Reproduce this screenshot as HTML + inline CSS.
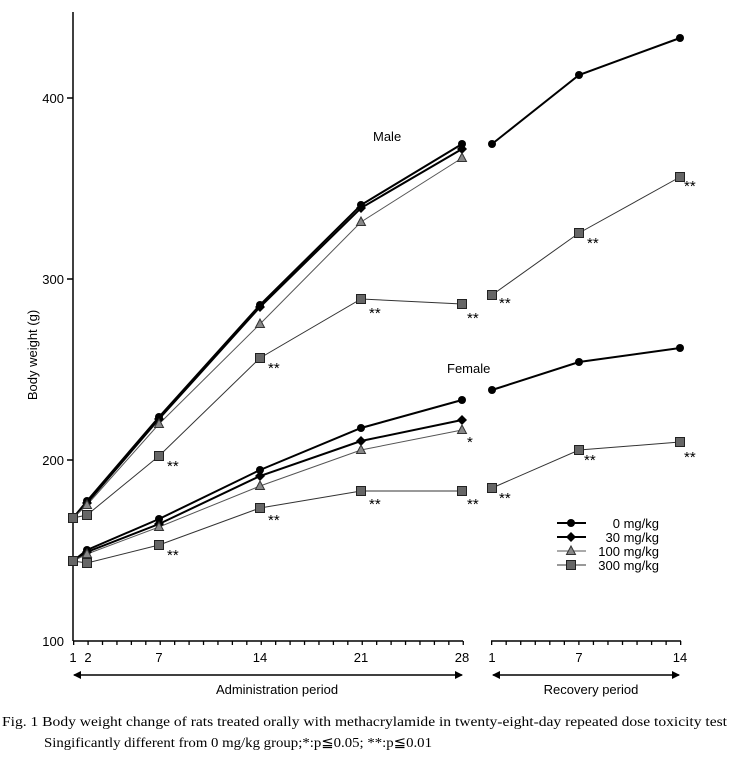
<!DOCTYPE html>
<html><head><meta charset="utf-8"><style>
body{margin:0;background:#fff;width:729px;height:759px;overflow:hidden}
svg{display:block;font-family:"Liberation Sans",sans-serif}
.cap{font-family:"Liberation Serif",serif;font-size:14px}
</style></head><body>
<svg width="729" height="759" viewBox="0 0 729 759">
<defs>
<g id="c"><circle r="4" fill="#000"/></g>
<g id="d"><path d="M0 -5L5 0L0 5L-5 0Z" fill="#000"/></g>
<g id="t"><path d="M0 -5L4.5 3.5L-4.5 3.5Z" fill="#888" stroke="#333" stroke-width="1"/></g>
<g id="s"><rect x="-4.5" y="-4.5" width="9" height="9" fill="#666" stroke="#222" stroke-width="1"/></g>
<marker id="ah" markerWidth="8" markerHeight="8" refX="7" refY="4" orient="auto-start-reverse" markerUnits="userSpaceOnUse"><path d="M0 0L8 4L0 8Z" fill="#000"/></marker>
</defs>
<line x1="73" y1="12" x2="73" y2="641" stroke="#000" stroke-width="1.5"/>
<line x1="73" y1="641" x2="463" y2="641" stroke="#000" stroke-width="1.5"/>
<line x1="73" y1="643" x2="464" y2="643" stroke="#000" stroke-width="4" stroke-dasharray="1.3 13.13"/>
<line x1="491" y1="641" x2="681" y2="641" stroke="#000" stroke-width="1.5"/>
<line x1="491" y1="643" x2="682" y2="643" stroke="#000" stroke-width="4" stroke-dasharray="1.3 13.24"/>
<g stroke="#000" stroke-width="1.5"><line x1="67" y1="460" x2="73" y2="460"/><line x1="67" y1="279" x2="73" y2="279"/><line x1="67" y1="98" x2="73" y2="98"/></g>
<g font-size="13" text-anchor="end"><text x="64" y="646">100</text><text x="64" y="465">200</text><text x="64" y="284">300</text><text x="64" y="103">400</text></g>
<text transform="translate(37,355) rotate(-90)" font-size="13" text-anchor="middle">Body weight (g)</text>
<g font-size="13" text-anchor="middle"><text x="73" y="662">1</text><text x="88" y="662">2</text><text x="159" y="662">7</text><text x="260" y="662">14</text><text x="361" y="662">21</text><text x="462" y="662">28</text>
<text x="492" y="662">1</text><text x="579" y="662">7</text><text x="680" y="662">14</text>
<text x="277" y="694">Administration period</text><text x="591" y="694">Recovery period</text></g>
<line x1="74" y1="675" x2="462" y2="675" stroke="#000" stroke-width="1.5" marker-start="url(#ah)" marker-end="url(#ah)"/>
<line x1="493" y1="675" x2="679" y2="675" stroke="#000" stroke-width="1.5" marker-start="url(#ah)" marker-end="url(#ah)"/>
<g fill="none">
<polyline points="73,518 87,501 159,417 260,305 361,205 462,144" stroke="#000" stroke-width="2"/>
<polyline points="73,518 87,503 159,419 260,307 361,208 462,149" stroke="#000" stroke-width="2"/>
<polyline points="73,518 87,505 159,424 260,324 361,222 462,158" stroke="#555" stroke-width="1"/>
<polyline points="73,518 87,515 159,456 260,358 361,299 462,304" stroke="#333" stroke-width="1"/>
<polyline points="73,561 87,550 159,519 260,470 361,428 462,400" stroke="#000" stroke-width="2"/>
<polyline points="73,561 87,552 159,524 260,476 361,441 462,420" stroke="#000" stroke-width="2"/>
<polyline points="73,561 87,554 159,527 260,486 361,450 462,430" stroke="#555" stroke-width="1"/>
<polyline points="73,561 87,563 159,545 260,508 361,491 462,491" stroke="#333" stroke-width="1"/>
<polyline points="492,144 579,75 680,38" stroke="#000" stroke-width="2"/>
<polyline points="492,295 579,233 680,177" stroke="#333" stroke-width="1"/>
<polyline points="492,390 579,362 680,348" stroke="#000" stroke-width="2"/>
<polyline points="492,488 579,450 680,442" stroke="#333" stroke-width="1"/>
</g>
<use href="#s" x="73" y="518"/><use href="#s" x="73" y="561"/>
<use href="#c" x="87" y="501"/><use href="#d" x="87" y="503"/><use href="#t" x="87" y="505"/><use href="#s" x="87" y="515"/>
<use href="#c" x="87" y="550"/><use href="#d" x="87" y="552"/><use href="#t" x="87" y="554"/><use href="#s" x="87" y="563"/>
<use href="#c" x="159" y="417"/><use href="#d" x="159" y="419"/><use href="#t" x="159" y="424"/><use href="#s" x="159" y="456"/>
<use href="#c" x="159" y="519"/><use href="#d" x="159" y="524"/><use href="#t" x="159" y="527"/><use href="#s" x="159" y="545"/>
<use href="#c" x="260" y="305"/><use href="#d" x="260" y="307"/><use href="#t" x="260" y="324"/><use href="#s" x="260" y="358"/>
<use href="#c" x="260" y="470"/><use href="#d" x="260" y="476"/><use href="#t" x="260" y="486"/><use href="#s" x="260" y="508"/>
<use href="#c" x="361" y="205"/><use href="#d" x="361" y="208"/><use href="#t" x="361" y="222"/><use href="#s" x="361" y="299"/>
<use href="#c" x="361" y="428"/><use href="#d" x="361" y="441"/><use href="#t" x="361" y="450"/><use href="#s" x="361" y="491"/>
<use href="#c" x="462" y="144"/><use href="#d" x="462" y="149"/><use href="#t" x="462" y="158"/><use href="#s" x="462" y="304"/>
<use href="#c" x="462" y="400"/><use href="#d" x="462" y="420"/><use href="#t" x="462" y="430"/><use href="#s" x="462" y="491"/>
<use href="#c" x="492" y="144"/><use href="#c" x="579" y="75"/><use href="#c" x="680" y="38"/>
<use href="#s" x="492" y="295"/><use href="#s" x="579" y="233"/><use href="#s" x="680" y="177"/>
<use href="#c" x="492" y="390"/><use href="#c" x="579" y="362"/><use href="#c" x="680" y="348"/>
<use href="#s" x="492" y="488"/><use href="#s" x="579" y="450"/><use href="#s" x="680" y="442"/>
<g font-size="15">
<text x="167" y="471">**</text><text x="268" y="373">**</text><text x="369" y="318">**</text><text x="467" y="323">**</text>
<text x="167" y="560">**</text><text x="268" y="525">**</text><text x="369" y="509">**</text><text x="467" y="509">**</text><text x="467" y="447">*</text>
<text x="499" y="308">**</text><text x="587" y="248">**</text><text x="684" y="191">**</text>
<text x="499" y="503">**</text><text x="584" y="465">**</text><text x="684" y="462">**</text>
</g>
<text x="373" y="141" font-size="13">Male</text>
<text x="447" y="373" font-size="13">Female</text>
<g font-size="13">
<line x1="557" y1="523" x2="586" y2="523" stroke="#000" stroke-width="2"/><use href="#c" x="571" y="523"/><text x="659" y="528" text-anchor="end">0 mg/kg</text>
<line x1="557" y1="537" x2="586" y2="537" stroke="#000" stroke-width="2"/><use href="#d" x="571" y="537"/><text x="659" y="542" text-anchor="end">30 mg/kg</text>
<line x1="557" y1="551" x2="586" y2="551" stroke="#555" stroke-width="1"/><use href="#t" x="571" y="551"/><text x="659" y="556" text-anchor="end">100 mg/kg</text>
<line x1="557" y1="565" x2="586" y2="565" stroke="#333" stroke-width="1"/><use href="#s" x="571" y="565"/><text x="659" y="570" text-anchor="end">300 mg/kg</text>
</g>
<text class="cap" x="2" y="726" textLength="725" lengthAdjust="spacingAndGlyphs">Fig. 1  Body weight change of rats treated orally with methacrylamide in twenty-eight-day repeated dose toxicity test</text>
<text class="cap" x="44" y="747" textLength="388" lengthAdjust="spacingAndGlyphs">Singificantly different from 0 mg/kg group;*:p≦0.05; **:p≦0.01</text>
</svg>
</body></html>
